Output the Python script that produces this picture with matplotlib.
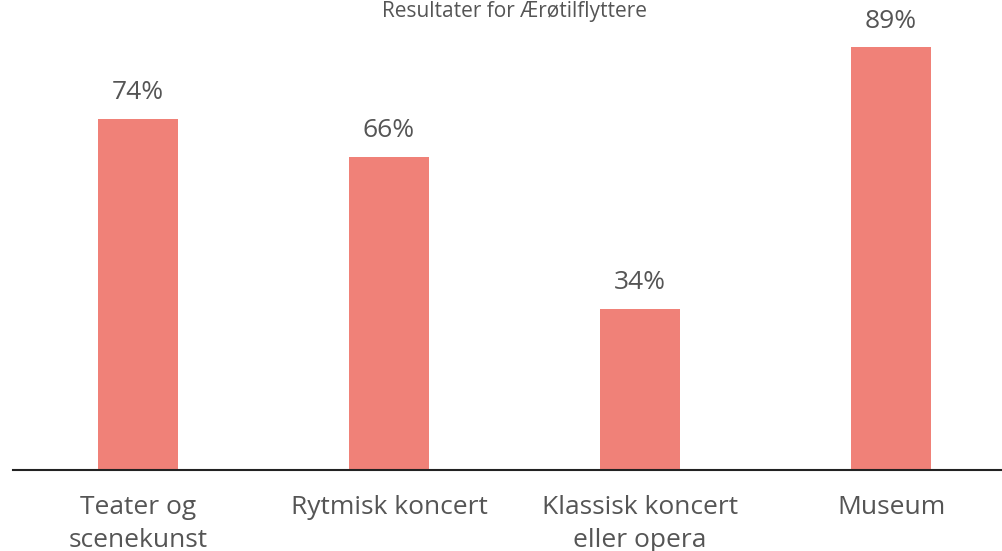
import matplotlib.pyplot as plt

kategorier = ["Teater og\nscenekunst", "Rytmisk koncert", "Klassisk koncert\neller opera", "Museum"]
andele = [74, 66, 34, 89]
etiketter = ["74%", "66%", "34%", "89%"]
titel = "Resultater for Ærøtilflyttere"

plt.rcParams['font.family'] = ['Open Sans', 'DejaVu Sans']

fig = plt.figure(figsize=(10.02, 5.51), dpi=100)
ax = fig.add_axes([0.013, 0.147, 0.987, 0.853])

x = list(range(len(kategorier)))
bars = ax.bar(x, andele, width=0.319, color="#F08178", zorder=2)

for b, t in zip(bars, etiketter):
    ax.annotate(t, (b.get_x() + b.get_width() / 2, b.get_height()),
                xytext=(0, 10), textcoords="offset points",
                ha="center", va="bottom", fontsize=19, color="#555555")

ax.set_xlim(-0.498, 3.442)
ax.set_ylim(0, 99)
ax.set_xticks(x)
ax.set_xticklabels(kategorier, fontsize=19, color="#555555", linespacing=1.4)
ax.tick_params(axis="x", length=0, pad=18)
ax.set_yticks([])
for s in ["top", "right", "left"]:
    ax.spines[s].set_visible(False)
ax.spines["bottom"].set_linewidth(1.5)
ax.spines["bottom"].set_color("#222222")

# titlen er næsten skåret væk i forlægget; her holdes den lige inden for kanten
fig.text(0.513, 0.999, titel, ha="center", va="top", fontsize=15, color="#555555")

fig.savefig("out.png", dpi=100)
